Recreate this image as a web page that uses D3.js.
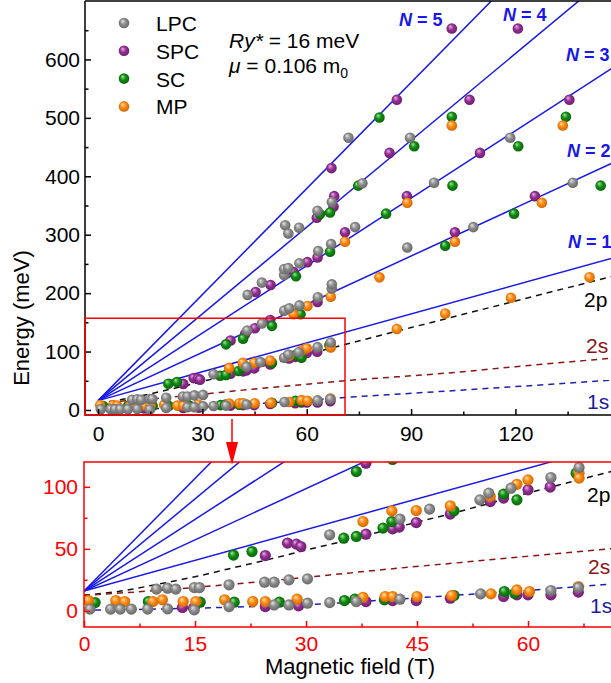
<!DOCTYPE html>
<html><head><meta charset="utf-8">
<script src="https://cdn.jsdelivr.net/npm/d3@7"></script>
<style>body{margin:0;background:#fff} svg{display:block;font-family:"Liberation Sans",Arial,sans-serif}</style>
</head><body><svg id="c" width="611" height="683"></svg>
<script>
// ---------------- data ----------------
const seriesNames = ["LPC", "SPC", "SC", "MP"];
const lpc = [[0.8,1.4],[3.6,1.4],[4.9,1.4],[6.4,1.4],[8.6,1.4],[11.3,1.6],[14.9,0.8],[19.6,3.5],[25.7,4.8],[27.7,4.8],[30.2,6.2],[33.2,6.7],[36.8,7.5],[42.7,9.4],[53.6,13.7],[63.1,16.4],[66.8,18.8],
  [9.8,17.5],[11.3,18.3],[12.4,17.5],[14.9,18.8],[15.6,18.8],[19.6,21],[24.4,23.1],[25.7,23.1],[27.7,25],[30.2,25.8],
  [33.2,61.3],[42.7,74],[46.7,82],[53.5,89.5],[54.7,94.9],[57.7,98.9],[63.1,107.5],[66.9,115.6],
  [42.9,136],[47.1,148],[53.5,170],[55,174],[57.9,179],[63.2,193],[67.2,208],[67.2,215],
  [43,197],[47.1,218],[53.5,231],[53.5,241],[54.7,243],[57.9,251],[63.3,272],[67,284],[73.9,313],[88.9,278],[107.9,313],[96.6,389],[136.5,389],
  [53.8,316],[54.7,302],[57.8,312],[63.1,341],[67.2,356],[76,388],[89.7,466],[118.5,466],[72,466]];
const spc = [[13.3,2.7],[14.8,2.2],[24.5,3.5],[29,4],[38.1,7.5],[41.7,8.3],[44.9,8.3],[49.5,10.2],[56.7,11.6],[58.5,12.9],[60,12.9],[63.1,12.9],[66.8,15.1],
  [24.5,44.6],[27.5,54.6],[28.7,53.8],[29.3,51.9],[38.1,61.8],[41.7,66.1],[42.6,67.5],[44.9,71.2],[49.5,78],[54.9,88.1],[56.7,90.9],[60,97.6],[63,99.8],
  [38.1,119],[42.3,130],[45.1,140],[49.5,154],[63.1,185],
  [45.3,202],[49.6,214],[56.2,236],[60.2,253],[63.1,261],[71,304],[102.6,304],[88.8,366],[125.6,366],
  [62.9,329],[67.7,348],[67.9,366],[83.8,440],[109.8,440],[106.8,531],[135.5,531],[120.7,653],
  [67.1,414],[85.9,531],[101.7,653]];
const sc = [[1.5,6.7],[8.7,7.5],[15.7,7],[20.3,7],[26.4,7],[35.2,8.3],[36.6,9.4],[40.6,8.9],[50,12.4],[56.8,15.6],[58.2,14.2],
  [20.2,45],[22.7,47.8],[35.1,58.6],[36.8,60],[40.4,66.7],[41.6,72],[50,80.6],[56.7,94.1],[58.5,89.5],[66.5,111],
  [36.8,112.3],[41.7,122],[50,144],[58.2,164],
  [56.9,229],[66.7,271],[99.8,281],[82.8,336],[119.6,336],[101.9,384],[144.5,384],
  [63.8,335],[66.7,338],[74.8,384],[90.9,451.5],[120.8,451.5],[101.7,502],[134.5,502],
  [80.9,500.6]];
const mp = [[0.6,8.3],[4.3,8.3],[5.5,7.5],[9.3,7.5],[10.6,8.9],[13.4,7.5],[15.1,7.5],[19,8.9],[22.8,7.5],[24.5,7.5],[28.8,9.4],[37.7,11],[40.7,11.6],[41.7,11.6],[45,11.6],[49.7,12.4],[55,13.7],[58.5,16.9],[60.2,15.6],[66.8,19.6],
  [37.7,72],[41.6,80.6],[44.9,80.9],[49.5,84.7],[54.9,92.2],[58.5,102],[60,105.6],[66.9,111],[66.9,107],[85.9,138.5],[99.8,165],[118.7,192],[141.3,227],
  [56.2,164],[60.2,178],[66.9,194],[80.9,227],[102.6,288],
  [71,288],[88.9,354.6],[127.6,354.6],
  [101.7,487],[133.6,487]];

// Landau level fan lines (endpoints)
const landauNames = ["N = 1", "N = 2", "N = 3", "N = 4", "N = 5"];
const landau1 = [[0,16],[150,263.5]];
const landau2 = [[0,16],[150,428.5]];
const landau3 = [[0,16],[150,593.5]];
const landau4 = [[0,16],[150,758.5]];
const landau5 = [[0,16],[150,923.5]];
// hydrogen-like exciton states (dashed)
const state1s = [[0,0.5],[10,1.5],[20,3],[30,5],[40,8.5],[50,12.5],[60,16.5],[70,21],[90,28.5],[120,40],[150,52]];
const state2s = [[0,12.5],[10,16.5],[20,21.5],[30,27],[40,33],[50,38.5],[60,44],[71,50],[100,63],[120,74],[150,90]];
const state2p = [[0,12.5],[5,16],[10,21.5],[15,27.5],[20,34.5],[25,41.5],[30,49],[36,57.5],[42,67],[50,79],[60,95],[71,112],[90,141],[120,186.5],[150,232]];

const topXTicks = [0,30,60,90,120];
const topYTicks = [0,100,200,300,400,500,600];
const botXTicks = [0,15,30,45,60];
const botYTicks = [0,50,100];

// ---------------- styles ----------------
const colors = {LPC:["#e4e4e4","#8c8c8c","#5e5e5e"], SPC:["#e8b0e8","#932f93","#641864"], SC:["#9be89b","#128a12","#075c07"], MP:["#ffe0b0","#ff8a10","#c25e00"]};
const seriesData = {LPC:lpc, SPC:spc, SC:sc, MP:mp};
const drawOrder = ["SPC","SC","MP","LPC"];
const blue = "#1818e8", red = "#ff0000";

const svg = d3.select("#c");
const defs = svg.append("defs");
seriesNames.forEach(s => {
  const g = defs.append("radialGradient").attr("id","g"+s).attr("cx","0.5").attr("cy","0.5").attr("r","0.6").attr("fx","0.35").attr("fy","0.3");
  g.append("stop").attr("offset","0").attr("stop-color",colors[s][0]);
  g.append("stop").attr("offset","0.45").attr("stop-color",colors[s][1]);
  g.append("stop").attr("offset","1").attr("stop-color",colors[s][2]);
});

// scales
const xTop = d3.scaleLinear().domain([-3.75,150]).range([85,619.8]);
const yTop = d3.scaleLinear().domain([-8.6,700]).range([415,1]);
const xBot = d3.scaleLinear().domain([0,72]).range([84,616.8]);
const yBot = d3.scaleLinear().domain([-13,120]).range([627,462]);

defs.append("clipPath").attr("id","clipTop").append("rect").attr("x",85).attr("y",1).attr("width",540).attr("height",414);
defs.append("clipPath").attr("id","clipBot").append("rect").attr("x",84).attr("y",462).attr("width",540).attr("height",165);

function panel(x, y, clip, r) {
  const g = svg.append("g").attr("clip-path", `url(#${clip})`);
  const line = d3.line().x(d => x(d[0])).y(d => y(d[1]));
  const curve = d3.line().x(d => x(d[0])).y(d => y(d[1])).curve(d3.curveMonotoneX);
  [landau1, landau2, landau3, landau4, landau5].forEach(l =>
    g.append("path").attr("d", line(l)).attr("fill","none").attr("stroke",blue).attr("stroke-width",1.5));
  g.append("path").attr("d", curve(state2p)).attr("fill","none").attr("stroke","#111").attr("stroke-width",1.5).attr("stroke-dasharray","6,5");
  g.append("path").attr("d", curve(state2s)).attr("fill","none").attr("stroke","#8b1515").attr("stroke-width",1.5).attr("stroke-dasharray","6,5");
  g.append("path").attr("d", curve(state1s)).attr("fill","none").attr("stroke","#2020b0").attr("stroke-width",1.5).attr("stroke-dasharray","6,5");
  drawOrder.forEach(s => {
    g.selectAll(null).data(seriesData[s]).enter().append("circle")
      .attr("cx", d => x(d[0])).attr("cy", d => y(d[1])).attr("r", r)
      .attr("fill", `url(#g${s})`);
  });
  return g;
}
panel(xTop, yTop, "clipTop", 5.3);
panel(xBot, yBot, "clipBot", 5.6);

// ---------- top axes ----------
function styleAxis(g, color, fs) {
  g.select(".domain").remove();
  g.selectAll("line").attr("stroke", color).attr("stroke-width", 1.5);
  g.selectAll("text").attr("fill", color).style("font-size", fs + "px").style("font-family", '"Liberation Sans",Arial,sans-serif');
}
const gyT = svg.append("g").attr("transform","translate(85,0)").call(d3.axisLeft(yTop).tickValues(topYTicks).tickSize(-6).tickPadding(5));
styleAxis(gyT, "#000", 21);
const gymT = svg.append("g").attr("transform","translate(85,0)").call(d3.axisLeft(yTop).tickValues([50,150,250,350,450,550,650]).tickSize(-3.5).tickFormat(""));
styleAxis(gymT, "#000", 21);
const gxT = svg.append("g").attr("transform","translate(0,415)").call(d3.axisBottom(xTop).tickValues(topXTicks).tickSize(-6).tickPadding(11));
styleAxis(gxT, "#000", 21);
const gxmT = svg.append("g").attr("transform","translate(0,415)").call(d3.axisBottom(xTop).tickValues([15,45,75,105,135]).tickSize(-3.5).tickFormat(""));
styleAxis(gxmT, "#000", 21);
// frame
svg.append("path").attr("d","M85,1V415H611M85,1H611").attr("fill","none").attr("stroke","#000").attr("stroke-width",1.5);

// inset rectangle
svg.append("rect").attr("x", xTop(-3.75)).attr("y", yTop(157)).attr("width", xTop(71) - xTop(-3.75)).attr("height", 415 - yTop(157))
  .attr("fill","none").attr("stroke",red).attr("stroke-width",1.5);
// arrow
svg.append("line").attr("x1",232).attr("y1",419).attr("x2",232).attr("y2",445).attr("stroke",red).attr("stroke-width",1.5);
svg.append("path").attr("d","M226,442L238,442L232,465Z").attr("fill",red);

// ---------- bottom axes ----------
const gyB = svg.append("g").attr("transform","translate(84,0)").call(d3.axisLeft(yBot).tickValues(botYTicks).tickSize(-6).tickPadding(6));
styleAxis(gyB, red, 21);
const gymB = svg.append("g").attr("transform","translate(84,0)").call(d3.axisLeft(yBot).tickValues([25,75]).tickSize(-3.5).tickFormat(""));
styleAxis(gymB, red, 21);
const gxB = svg.append("g").attr("transform","translate(0,627)").call(d3.axisBottom(xBot).tickValues(botXTicks).tickSize(-6).tickPadding(9));
styleAxis(gxB, red, 21);
const gxmB = svg.append("g").attr("transform","translate(0,627)").call(d3.axisBottom(xBot).tickValues([7.5,22.5,37.5,52.5,67.5]).tickSize(-3.5).tickFormat(""));
styleAxis(gxmB, red, 21);
svg.append("path").attr("d","M611,462H84V627H611").attr("fill","none").attr("stroke",red).attr("stroke-width",1.5);

// ---------- labels ----------
const T = (x, y, txt, opts = {}) => svg.append("text").attr("x", x).attr("y", y).text(txt)
  .attr("fill", opts.fill || "#000").style("font-size", (opts.fs || 21) + "px")
  .style("font-weight", opts.fw || "normal").style("font-style", opts.fi || "normal")
  .attr("text-anchor", opts.anchor || "start");

T(22, 0, "Energy (meV)", {anchor:"middle", fs:22}).attr("transform","translate(29,318) rotate(-90)").attr("x",0).attr("y",0);
T(350, 674, "Magnetic field (T)", {anchor:"middle", fs:22});

// legend
seriesNames.forEach((s, i) => {
  const cy = 23 + i * 27.8;
  svg.append("circle").attr("cx",124).attr("cy",cy).attr("r",5.3).attr("fill",`url(#g${s})`);
  T(156, cy + 8, s, {fs:21});
});

// parameters
const t1 = svg.append("text").attr("x",229).attr("y",48).style("font-size","21px");
t1.append("tspan").style("font-style","italic").text("Ry*");
t1.append("tspan").text(" = 16 meV");
const t2 = svg.append("text").attr("x",229).attr("y",73).style("font-size","21px");
t2.append("tspan").style("font-style","italic").text("μ");
t2.append("tspan").text(" = 0.106 m");
t2.append("tspan").attr("dy",5).style("font-size","14px").text("0");

// N labels
const nPos = [[568,248],[567,157],[566,61],[503,21],[399,26]];
landauNames.forEach((n, i) => {
  const t = svg.append("text").attr("x", nPos[i][0]).attr("y", nPos[i][1]).attr("fill", blue)
    .style("font-size","18px").style("font-weight","bold");
  t.append("tspan").style("font-style","italic").text("N");
  t.append("tspan").text(n.slice(1));
});

// state labels
T(584, 307, "2p", {fs:21});
T(586, 353, "2s", {fs:21, fill:"#8b1515"});
T(587, 409, "1s", {fs:21, fill:"#1c1ca0"});
T(587, 502, "2p", {fs:21});
T(588, 574, "2s", {fs:21, fill:"#8b1515"});
T(590, 613, "1s", {fs:21, fill:"#1c1ca0"});
</script></body></html>
